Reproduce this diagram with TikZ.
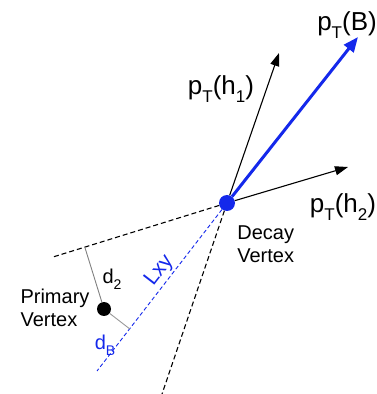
\documentclass[tikz,border=0pt]{standalone}
\usepackage{fontspec}
\setmainfont{Liberation Sans}
\usetikzlibrary{arrows.meta}
\usetikzlibrary{calc}
\usetikzlibrary{positioning}
\definecolor{trackblue}{RGB}{20,40,235}
\newcommand{\lowidx}[2][17]{\raisebox{-0.3em}{\fontsize{#1}{#1}\selectfont #2}}

\begin{document}
\begin{tikzpicture}[x=1pt, y=1pt, every node/.style={font=\fontsize{20}{23}\selectfont},
    momentum/.style={font=\fontsize{26}{28}\selectfont, inner sep=1pt}]
    \useasboundingbox (0,0) rectangle (376,394);

    % Decay vertex
    \node[circle, fill=trackblue, inner sep=0pt, minimum size=16pt] (DV) at (227,191) {};
    \node[align=left, below right=13pt and 1pt of DV] (DVlabel) {Decay\\Vertex};
    % Primary vertex
    \node[circle, fill=black, inner sep=0pt, minimum size=14pt] (PV) at (104,85) {};
    \node[align=left] (PVlabel) at (55,86) {Primary\\Vertex};
    % track ends
    \coordinate (Btip) at (358,357);
    \coordinate (Hone) at (279,341);
    \coordinate (Htwo) at (348,227);
    \coordinate (Uend) at (53,137);
    \coordinate (Lend) at (162,0);
    \coordinate (Bend) at (97,23);
    % B and daughters
    \draw[-{Triangle[length=13pt, width=9pt]}, line width=1.1pt] (DV) -- (Hone);
    \draw[-{Triangle[length=13pt, width=9pt]}, line width=1.1pt] (DV) -- (Htwo);
    \draw[-{Triangle[length=15pt, width=12pt]}, line width=3pt, trackblue] (DV) -- (Btip);
    \node[momentum] (pTB) at (347,369) {p\lowidx{T}(B)};
    \node[momentum] (pTh1) at (221,305) {p\lowidx{T}(h\lowidx{1})};
    \node[momentum] (pTh2) at (343,187) {p\lowidx{T}(h\lowidx{2})};
    % cone and flight line
    \draw[dashed, line width=1.1pt, dash pattern=on 5pt off 3pt] (DV) -- (Uend);
    \draw[dashed, line width=1.1pt, dash pattern=on 5pt off 3pt] (DV) -- (Lend);
    \draw[dashed, line width=0.9pt, dash pattern=on 4pt off 2.5pt, trackblue] (DV) -- node[pos=0.425, sloped, above=1pt, trackblue, font=\fontsize{21}{23}\selectfont, inner sep=1pt] (Lxy) {Lxy} (Bend);
    % impact parameters
    \coordinate (Dfoot) at ($(DV)!(PV)!(Uend)$);
    \coordinate (Bfoot) at ($(DV)!(PV)!(Bend)$);
    \draw[gray, line width=0.9pt] (Dfoot) -- (PV);
    \draw[gray!80, line width=0.9pt] (PV) -- (Bfoot);
    \node[inner sep=1pt] (dtwo) at (112,115) {d\lowidx[14]{2}};
    \node[trackblue, inner sep=1pt] (dB) at (105,49) {d\lowidx[14]{B}};

\end{tikzpicture}
\end{document}
